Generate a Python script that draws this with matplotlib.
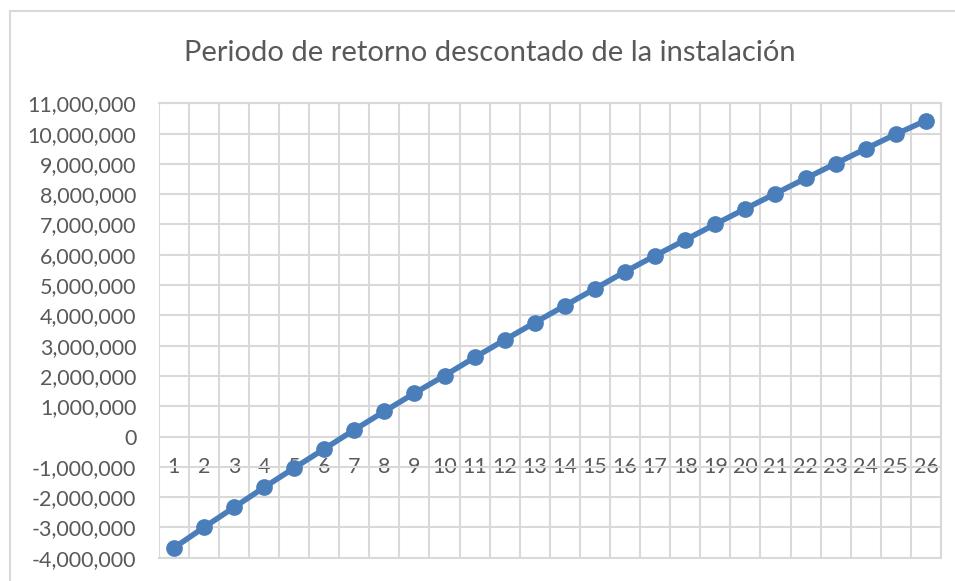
import matplotlib.pyplot as plt
from matplotlib.patches import Rectangle
from matplotlib.ticker import FuncFormatter, MultipleLocator
from matplotlib.transforms import ScaledTranslation

plt.rcParams["font.family"] = ["Lato", "DejaVu Sans"]

years = list(range(1, 27))
cumulative_discounted = [
    -3680000, -3000000, -2340000, -1680000, -1040000, -410000,
    220000, 830000, 1430000, 2010000, 2610000, 3190000, 3760000,
    4320000, 4880000, 5440000, 5970000, 6490000, 7010000, 7520000,
    8020000, 8520000, 9010000, 9500000, 9980000, 10430000,
]
title = "Periodo de retorno descontado de la instalación"

GRID = "#d9d9d9"
TEXT = "#595959"
LINE = "#4a7ebb"

fig = plt.figure(figsize=(9.55, 5.81), dpi=100)
ax = fig.add_axes([0.1662, 0.0401, 0.8191, 0.7821])

# outer chart frame
fig.patches.append(Rectangle((10 / 955, -0.1), 1.2, 1 - 11 / 581 + 0.1,
                             transform=fig.transFigure, fill=False,
                             edgecolor=GRID, linewidth=1.5))

ax.plot(years, cumulative_discounted, color=LINE, linewidth=4,
        marker="o", markersize=11, zorder=3, clip_on=False)

ax.set_xlim(0.5, 26.5)
ax.set_ylim(-4000000, 11000000)
ax.yaxis.set_major_locator(MultipleLocator(1000000))
ax.yaxis.set_major_formatter(FuncFormatter(lambda v, _: f"{int(v):,}"))

ax.set_xticks(years)
ax.set_xticklabels([str(y) for y in years])
ax.set_xticks([y + 0.5 for y in range(0, 27)], minor=True)

ax.grid(axis="y", which="major", color=GRID, linewidth=1.5)
ax.grid(axis="x", which="minor", color=GRID, linewidth=1.5)
ax.set_axisbelow(True)

for side in ["left", "right", "top", "bottom"]:
    ax.spines[side].set_color(GRID)
    ax.spines[side].set_linewidth(1.5)
ax.spines["left"].set_visible(False)

ax.tick_params(axis="y", length=0, pad=16, labelsize=15.5, labelcolor=TEXT)
ax.tick_params(axis="x", which="both", length=0, labelsize=15.5,
               labelcolor=TEXT)

# category labels sit just below the zero line, as in the source chart
zero_frac = (0 - (-4000000)) / 15000000
shift = ScaledTranslation(0, -20 / 100, fig.dpi_scale_trans)
for t in ax.xaxis.get_major_ticks():
    t.label1.set_transform(ax.get_xaxis_transform() + shift)
    t.label1.set_y(zero_frac)
    t.label1.set_verticalalignment("top")

fig.text(0.513, 1 - 53 / 581, title, ha="center", va="center",
         fontsize=21, color=TEXT)

fig.savefig("out.png", dpi=100)
